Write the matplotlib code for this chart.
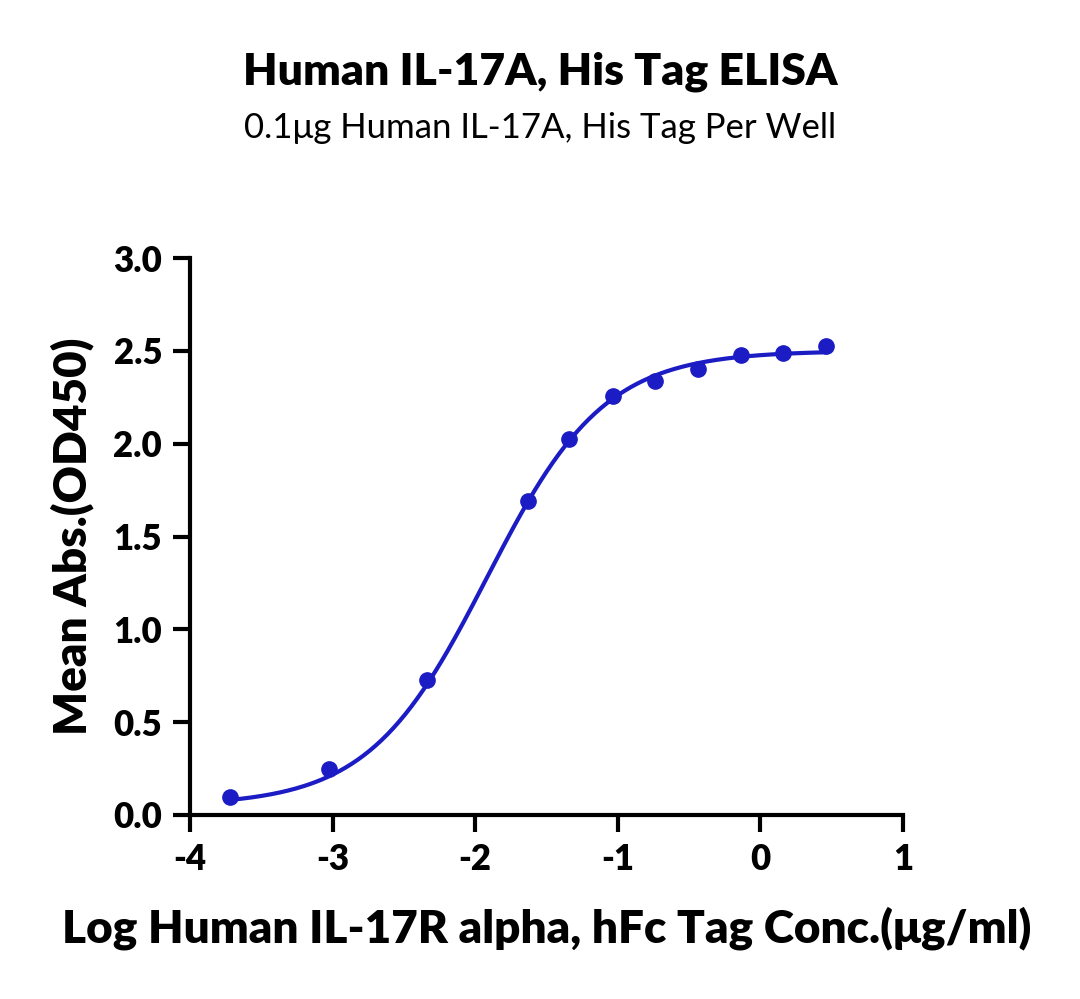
import numpy as np
import matplotlib
matplotlib.use("Agg")
import matplotlib.pyplot as plt

log_conc = [-3.72, -3.025, -2.338, -1.63, -1.342, -1.034, -0.739, -0.438, -0.136, 0.159, 0.46]
od450 = [0.097, 0.248, 0.727, 1.69, 2.025, 2.256, 2.337, 2.40, 2.477, 2.49, 2.525]
xtick_vals = [-4, -3, -2, -1, 0, 1]
xtick_labels = ['-4', '-3', '-2', '-1', '0', '1']
# 4PL fit parameters (bottom, top, logEC50, hill)
fit = dict(bottom=0.05, top=2.50, logec50=-1.92, hill=1.05)

plt.rcParams['font.family'] = ['Lato', 'DejaVu Sans']
fig = plt.figure(figsize=(10.8, 9.99), dpi=100)
ax = fig.add_axes([190/1080, 1-815/999, (903-190)/1080, (815-258)/999])
color = '#1c1cc4'
xs = np.linspace(min(log_conc), max(log_conc), 300)
ys = fit['bottom'] + (fit['top']-fit['bottom'])/(1+10**((fit['logec50']-xs)*fit['hill']))
ax.plot(xs, ys, color=color, lw=3)
ax.plot(log_conc, od450, 'o', color=color, ms=11)
ax.set_xlim(-4, 1); ax.set_ylim(0, 3)
ax.set_xticks(xtick_vals)
ax.set_xticklabels(xtick_labels)
ax.set_yticks([0, 0.5, 1, 1.5, 2, 2.5, 3])
ax.set_yticklabels(['0.0', '0.5', '1.0', '1.5', '2.0', '2.5', '3.0'])
for s in ['top', 'right']:
    ax.spines[s].set_visible(False)
for s in ['left', 'bottom']:
    ax.spines[s].set_linewidth(3)
ax.tick_params(width=3, length=12, labelsize=25, pad=8)
for l in ax.get_xticklabels() + ax.get_yticklabels():
    l.set_fontweight('heavy')
ax.set_xlabel('Log Human IL-17R alpha, hFc Tag Conc.(μg/ml)', fontsize=33, fontweight='heavy', labelpad=22)
ax.set_ylabel('Mean Abs.(OD450)', fontsize=33, fontweight='heavy', labelpad=14)
fig.text(0.5, 1-72/999, 'Human IL-17A, His Tag ELISA', ha='center', va='center', fontsize=32, fontweight='heavy')
fig.text(0.5, 1-128/999, '0.1μg Human IL-17A, His Tag Per Well', ha='center', va='center', fontsize=25)
fig.savefig('out.png', dpi=100)
